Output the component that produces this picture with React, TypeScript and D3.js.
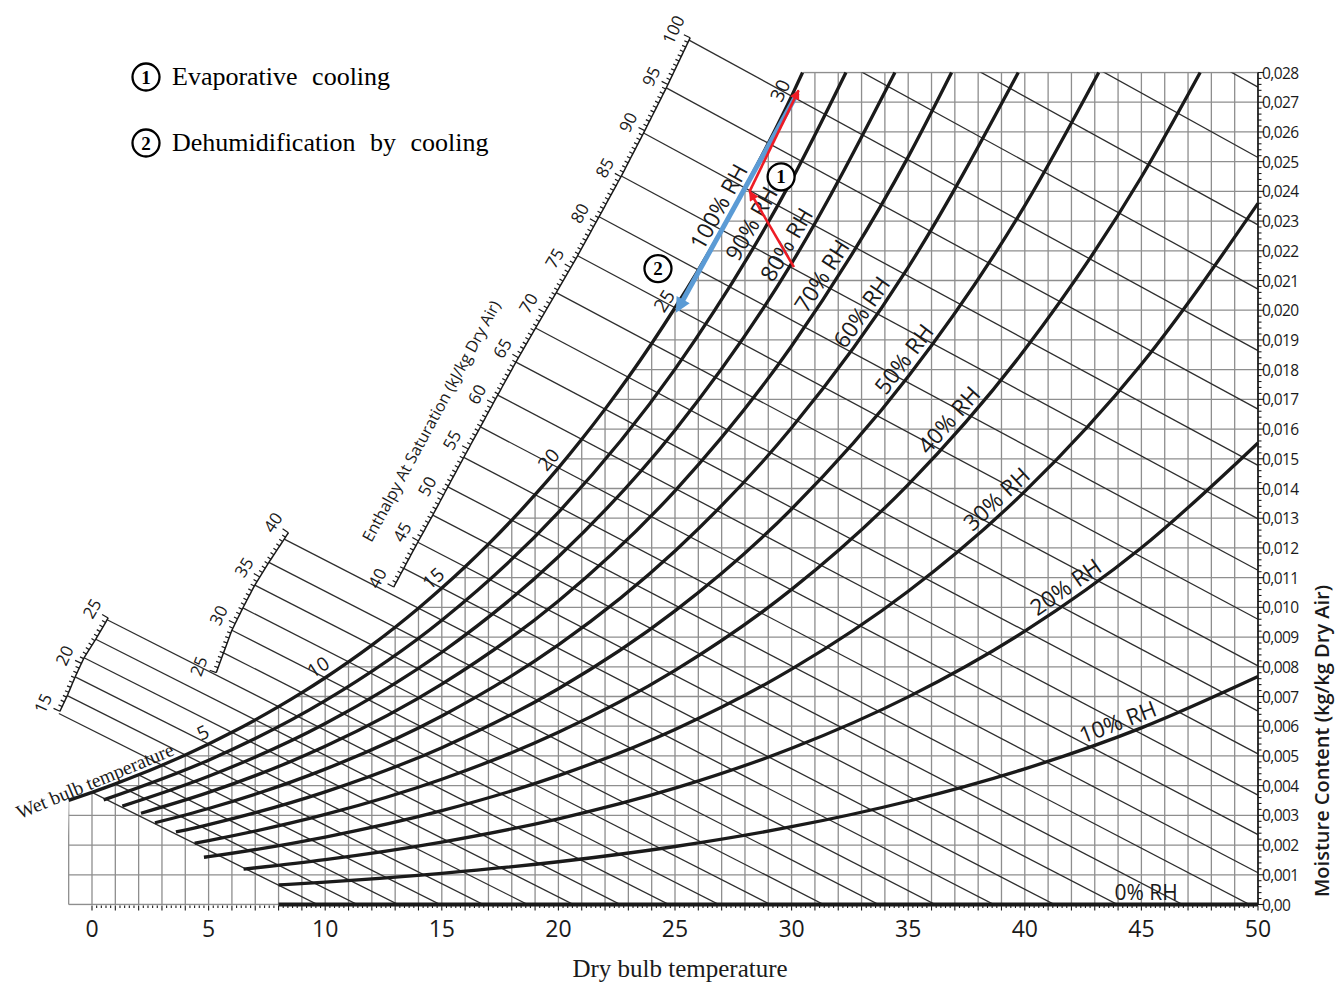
import React, { useEffect, useRef } from "react";
import * as d3 from "d3";

// ---------- DATA ----------
// Saturation (100% RH) moisture content at whole-degree dry bulb temperatures
const satT = [-1, 0, 1, 2, 3, 4, 5, 6, 7, 8, 9, 10, 11, 12, 13, 14, 15, 16, 17, 18, 19, 20, 21, 22, 23, 24, 25, 26, 27, 28, 29, 30, 31, 32, 33, 34];
const satW = [0.003505, 0.003775, 0.00406, 0.004364, 0.004689, 0.005034, 0.005403, 0.005795, 0.006212, 0.006657, 0.007129, 0.007631, 0.008165, 0.008731, 0.009333, 0.009971, 0.010649, 0.011367, 0.012129, 0.012935, 0.013791, 0.014696, 0.015656, 0.016671, 0.017744, 0.018881, 0.020083, 0.021354, 0.022698, 0.024118, 0.025619, 0.027205, 0.02888, 0.03065, 0.03252, 0.034494];
// enthalpy at saturation for the same temperatures (kJ/kg dry air)
const satEnthalpy = [7.75, 9.44, 11.17, 12.94, 14.77, 16.65, 18.59, 20.59, 22.66, 24.8, 27.0, 29.29, 31.65, 34.1, 36.65, 39.28, 42.02, 44.86, 47.82, 50.89, 54.09, 57.42, 60.89, 64.51, 68.28, 72.21, 76.31, 80.6, 85.07, 89.74, 94.63, 99.74, 105.1, 110.7, 116.5, 122.7];
const satTopT = 30.47;
const chartTopW = 0.028;

// Wet bulb lines: wet bulb temperature and moisture content where each line meets dry bulb 50 °C (extended)
const wbT = [0, 1, 2, 3, 4, 5, 6, 7, 8, 9, 10, 11, 12, 13, 14, 15, 16, 17, 18, 19, 20, 21, 22, 23, 24, 25, 26, 27, 28, 29, 30, 31, 32, 33, 34];
const wbW50 = [-0.01575, -0.01512, -0.01446, -0.01379, -0.01309, -0.01237, -0.01162, -0.01085, -0.01005, -0.00922, -0.00836, -0.00747, -0.00654, -0.00558, -0.00458, -0.00354, -0.00245, -0.00132, -0.00015, 0.00107, 0.00235, 0.00368, 0.00507, 0.00651, 0.00803, 0.0096, 0.01125, 0.01298, 0.01478, 0.01667, 0.01864, 0.02071, 0.02287, 0.02514, 0.02751];
const wbLabels = [5, 10, 15, 20, 25, 30];

// Relative humidity curves
const rhLevels = [90, 80, 70, 60, 50, 40, 30, 20, 10];
const rhGridT = [5, 10, 15, 20, 25, 30, 35, 40, 45, 50];
const rh90W = [0.004858, 0.006859, 0.009568, 0.013196, 0.018016, 0.024378, null, null, null, null];
const rh80W = [0.004315, 0.00609, 0.00849, 0.011702, 0.015963, 0.021575, null, null, null, null];
const rh70W = [0.003772, 0.005322, 0.007416, 0.010215, 0.013923, 0.018797, 0.025161, null, null, null];
const rh60W = [0.00323, 0.004556, 0.006346, 0.008735, 0.011896, 0.016042, 0.021443, null, null, null];
const rh50W = [0.00269, 0.003792, 0.005279, 0.007262, 0.009882, 0.013311, 0.017767, 0.023519, null, null];
const rh40W = [0.00215, 0.00303, 0.004216, 0.005796, 0.00788, 0.010604, 0.014133, 0.018674, 0.024483, null];
const rh30W = [0.001611, 0.00227, 0.003157, 0.004337, 0.005892, 0.007919, 0.01054, 0.013901, 0.018183, null];
const rh20W = [null, 0.001511, 0.002101, 0.002885, 0.003915, 0.005257, 0.006987, 0.009199, 0.012005, null];
const rh10W = [null, 0.000755, 0.001049, 0.001439, 0.001952, 0.002617, 0.003474, 0.004566, 0.005945, null];
const rhSeries = [rh90W, rh80W, rh70W, rh60W, rh50W, rh40W, rh30W, rh20W, rh10W];
const rhStartT = [0.5, 1.3, 2.1, 2.7, 3.6, 4.4, 4.8, 6.5, 8.0];
const rhStartW = [0.00352, 0.00331, 0.00307, 0.00275, 0.00244, 0.00206, 0.00159, 0.00119, 0.00066];
const rhEndT = [32.33, 34.43, 36.86, 39.72, 43.17, 47.52, 50, 50, 50];
const rhEndW = [0.028, 0.028, 0.028, 0.028, 0.028, 0.028, 0.023597, 0.015535, 0.007672];
const rhZeroStartT = 8;

// RH labels: dry bulb temperature where each label sits on its curve
const rhLabelText = ["100% RH", "90% RH", "80% RH", "70% RH", "60% RH", "50% RH", "40% RH", "30% RH", "20% RH", "10% RH"];
const rhLabelT = [27.4, 28.8, 30.3, 31.8, 33.5, 35.3, 37.2, 39.2, 42.1, 44.2];
const rhZeroLabelT = 45.2;

// Enthalpy scale segments: enthalpy values and how far (°C) the scale sits back from saturation
const enthLeftH = [15, 20, 25];
const enthLeftOffset = [4.5, 6.2, 7.4];
const enthMidH = [25, 30, 35, 40];
const enthMidOffset = [2.8, 4.2, 5.2, 5.85];
const enthTopH = [40, 45, 50, 55, 60, 65, 70, 80, 90, 100];
const enthTopOffset = [1.35, 2.05, 2.65, 3.15, 3.55, 3.85, 4.05, 4.25, 4.35, 4.4];

// Axes
const dbTickValues = [0, 5, 10, 15, 20, 25, 30, 35, 40, 45, 50];
const mcTickValues = [0, 0.001, 0.002, 0.003, 0.004, 0.005, 0.006, 0.007, 0.008, 0.009, 0.01, 0.011, 0.012, 0.013, 0.014, 0.015, 0.016, 0.017, 0.018, 0.019, 0.02, 0.021, 0.022, 0.023, 0.024, 0.025, 0.026, 0.027, 0.028];
const mcTickLabels = ["0,00", "0,001", "0,002", "0,003", "0,004", "0,005", "0,006", "0,007", "0,008", "0,009", "0,010", "0,011", "0,012", "0,013", "0,014", "0,015", "0,016", "0,017", "0,018", "0,019", "0,020", "0,021", "0,022", "0,023", "0,024", "0,025", "0,026", "0,027", "0,028"];

// Processes
const evapLeg1 = [[30.1, 0.02145], [28.2, 0.024]];
const evapLeg2 = [[28.2, 0.024], [30.3, 0.0274]];
const dehumLeg = [[30.25, 0.0273], [25.1, 0.02]];
const marker1 = [29.55, 0.02449];
const marker2 = [24.27, 0.0214];
const legendItems = ["Evaporative cooling", "Dehumidification by cooling"];

const SANS = "'Open Sans', 'Noto Sans', sans-serif";
const SERIF = "'Liberation Serif', 'Times New Roman', serif";
const INK = "#1a1a1a";

function draw(svgEl: SVGSVGElement) {
  const svg = d3.select(svgEl);
  svg.selectAll("*").remove();
  svg.append("rect").attr("width", 1341).attr("height", 983).attr("fill", "#fff");

  const x = d3.scaleLinear().domain([0, 50]).range([92, 1258]);
  const y = d3.scaleLinear().domain([0, 0.028]).range([904.5, 72.5]);
  const line = d3.line<number[]>().x((d) => x(d[0])).y((d) => y(d[1])).curve(d3.curveMonotoneX);
  const straight = d3.line<number[]>().x((d) => x(d[0])).y((d) => y(d[1]));

  const defs = svg.append("defs");
  defs.append("clipPath").attr("id", "gridRect").append("rect")
    .attr("x", x(-1) - 1).attr("y", y(chartTopW) - 1)
    .attr("width", x(50) - x(-1) + 2).attr("height", y(0) - y(chartTopW) + 2);
  const satPts = satT.map((t, i) => [t, satW[i]]);
  const underSat = line(satPts) + `L${x(50)},${y(0.0345)}L${x(50) + 2},${y(0) + 2}L${x(-1) - 2},${y(0) + 2}Z`;
  defs.append("clipPath").attr("id", "underSat").append("path").attr("d", underSat);
  const wbClip = [[0, 0], [x(satTopT), 0], [x(satTopT), y(chartTopW)], [x(50) + 1, y(chartTopW)], [x(50) + 1, y(0) + 1], [0, y(0) + 1]];
  defs.append("clipPath").attr("id", "wbClip").append("path").attr("d", "M" + wbClip.map((p) => p.join(",")).join("L") + "Z");

  const redM = defs.append("marker").attr("id", "redHead").attr("viewBox", "0 0 10 10")
    .attr("refX", 9).attr("refY", 5).attr("markerUnits", "userSpaceOnUse")
    .attr("markerWidth", 12).attr("markerHeight", 10).attr("orient", "auto");
  redM.append("path").attr("d", "M0,0L10,5L0,10Z").attr("fill", "#ee1c25");
  const blueM = defs.append("marker").attr("id", "blueHead").attr("viewBox", "0 0 10 10")
    .attr("refX", 8).attr("refY", 5).attr("markerUnits", "userSpaceOnUse")
    .attr("markerWidth", 16).attr("markerHeight", 15).attr("orient", "auto");
  blueM.append("path").attr("d", "M0,0L10,5L0,10Z").attr("fill", "#5b9bd5");

  // ---- grid ----
  const gridOuter = svg.append("g").attr("clip-path", "url(#gridRect)");
  const grid = gridOuter.append("g").attr("clip-path", "url(#underSat)")
    .attr("stroke", "#8e8e8e").attr("stroke-width", 1.3);
  for (let t = -1; t <= 50; t++) {
    grid.append("line").attr("x1", x(t)).attr("x2", x(t)).attr("y1", y(0)).attr("y2", y(chartTopW));
  }
  mcTickValues.forEach((w) => {
    grid.append("line").attr("x1", x(-1)).attr("x2", x(50)).attr("y1", y(w)).attr("y2", y(w));
  });

  // ---- enthalpy scale segments ----
  const satIdx = (t: number) => satT.indexOf(t);
  function segmentEnds(hs: number[], offs: number[], from: number, to: number) {
    const off = d3.scaleLinear().domain(hs).range(offs);
    const ends: { t: number; h: number; px: number; py: number }[] = [];
    for (let t = from; t <= to; t++) {
      const i = satIdx(t);
      const ws = satW[i];
      const h = satEnthalpy[i];
      const slope = (wbW50[wbT.indexOf(t)] - ws) / (50 - t);
      const te = t - off(h);
      const we = ws + slope * (te - t);
      ends.push({ t, h, px: x(te), py: y(we) });
    }
    return ends;
  }
  const segments = [
    { ends: segmentEnds(enthLeftH, enthLeftOffset, 3, 8), h0: 15, h1: 25 },
    { ends: segmentEnds(enthMidH, enthMidOffset, 9, 14), h0: 25, h1: 40 },
    { ends: segmentEnds(enthTopH, enthTopOffset, 15, 30), h0: 40, h1: 100 },
  ];
  const startOf = new Map<number, [number, number]>();
  segments.forEach((s) => s.ends.forEach((e) => startOf.set(e.t, [e.px, e.py])));

  // ---- wet bulb lines ----
  const wbG = svg.append("g").attr("clip-path", "url(#wbClip)").attr("stroke", "#2e2e2e").attr("stroke-width", 1.3);
  wbT.forEach((t, j) => {
    const i = satIdx(t);
    const s = startOf.get(t) || [x(t), y(satW[i])];
    wbG.append("line").attr("x1", s[0]).attr("y1", s[1]).attr("x2", x(50)).attr("y2", y(wbW50[j]));
  });

  // scale axes, ticks and labels
  const scaleG = svg.append("g");
  segments.forEach((seg) => {
    const hx = d3.scaleLinear().domain(seg.ends.map((e) => e.h)).range(seg.ends.map((e) => e.px));
    const hy = d3.scaleLinear().domain(seg.ends.map((e) => e.h)).range(seg.ends.map((e) => e.py));
    const pts: [number, number][] = [];
    for (let h = seg.h0; h <= seg.h1 + 1e-6; h += 0.25) pts.push([hx(h), hy(h)]);
    scaleG.append("path").attr("d", d3.line()(pts)).attr("fill", "none").attr("stroke", INK).attr("stroke-width", 1.5);
    for (let k = seg.h0 * 2; k <= seg.h1 * 2; k++) {
      const h = k / 2;
      const dx = hx(h + 0.1) - hx(h - 0.1);
      const dy = hy(h + 0.1) - hy(h - 0.1);
      const L = Math.hypot(dx, dy);
      const nx = dy / L, ny = -dx / L;
      const major = k % 10 === 0;
      const len = major ? 7 : 4;
      const px = hx(h), py = hy(h);
      scaleG.append("line").attr("x1", px).attr("y1", py).attr("x2", px + nx * len).attr("y2", py + ny * len)
        .attr("stroke", INK).attr("stroke-width", 1.2);
      if (major) {
        const ang = (Math.atan2(dy, dx) * 180) / Math.PI;
        scaleG.append("text")
          .attr("transform", `translate(${px + nx * 19},${py + ny * 19}) rotate(${ang})`)
          .attr("text-anchor", "middle").attr("dominant-baseline", "central")
          .attr("font-family", SANS).attr("font-size", 17).attr("fill", INK).text(String(h));
      }
    }
  });
  svg.append("text").attr("transform", "translate(431,421) rotate(-61.5)")
    .attr("text-anchor", "middle").attr("dominant-baseline", "central")
    .attr("font-family", SANS).attr("font-size", 16).attr("fill", INK)
    .text("Enthalpy At Saturation (kJ/kg Dry Air)");

  // ---- RH curves ----
  const curveG = svg.append("g").attr("fill", "none").attr("stroke", INK).attr("stroke-width", 3.3);
  const sat100 = satT.map((t, i) => [t, satW[i]]).filter((d) => d[0] <= 30);
  sat100.push([satTopT, chartTopW]);
  const paths: SVGPathElement[] = [];
  paths.push(curveG.append("path").attr("d", line(sat100)).node() as SVGPathElement);
  rhLevels.forEach((_, k) => {
    const pts: number[][] = [[rhStartT[k], rhStartW[k]]];
    rhGridT.forEach((t, i) => {
      const w = rhSeries[k][i];
      if (w != null && t > rhStartT[k] && t < rhEndT[k]) pts.push([t, w]);
    });
    pts.push([rhEndT[k], rhEndW[k]]);
    paths.push(curveG.append("path").attr("d", line(pts)).node() as SVGPathElement);
  });
  curveG.append("path").attr("d", straight([[rhZeroStartT, 0], [50, 0]])).attr("stroke-width", 3.8);

  // ---- axes ----
  const axG = svg.append("g").attr("stroke", INK);
  axG.append("line").attr("x1", x(50)).attr("x2", x(50)).attr("y1", y(0)).attr("y2", y(chartTopW)).attr("stroke-width", 1.7);
  for (let k = 0; k <= 250; k++) {
    const t = k / 5;
    axG.append("line").attr("x1", x(t)).attr("x2", x(t)).attr("y1", y(0) + 1)
      .attr("y2", y(0) + (k % 5 === 0 ? 6 : 3.5)).attr("stroke-width", 1.1);
  }
  for (let k = 0; k <= 140; k++) {
    const w = k * 0.0002;
    axG.append("line").attr("x1", x(50)).attr("x2", x(50) + (k % 5 === 0 ? 6 : 3.5)).attr("y1", y(w)).attr("y2", y(w)).attr("stroke-width", 1.1);
  }
  const txt = svg.append("g").attr("fill", INK);
  dbTickValues.forEach((v) => {
    txt.append("text").attr("x", x(v)).attr("y", 937).attr("text-anchor", "middle")
      .attr("font-family", SANS).attr("font-size", 23).text(String(v));
  });
  mcTickValues.forEach((v, i) => {
    txt.append("text").attr("x", x(50) + 4).attr("y", y(v)).attr("dominant-baseline", "central")
      .attr("font-family", SANS).attr("font-size", 15.5).attr("letter-spacing", -0.6).text(mcTickLabels[i]);
  });
  txt.append("text").attr("transform", "translate(1321,741) rotate(-90)").attr("text-anchor", "middle")
    .attr("dominant-baseline", "central").attr("font-family", SANS).attr("font-size", 20).attr("font-weight", 600)
    .text("Moisture Content (kg/kg Dry Air)");
  txt.append("text").attr("x", 680).attr("y", 977).attr("text-anchor", "middle")
    .attr("font-family", SERIF).attr("font-size", 25).text("Dry bulb temperature");
  txt.append("text").attr("transform", "translate(95,781) rotate(-22.5)").attr("text-anchor", "middle")
    .attr("dominant-baseline", "central").attr("font-family", SERIF).attr("font-size", 19.5).text("Wet bulb temperature");

  // wet bulb labels on saturation curve
  wbLabels.forEach((t) => {
    const i = satIdx(t);
    const dx = x(satT[i + 1]) - x(satT[i - 1]);
    const dy = y(satW[i + 1]) - y(satW[i - 1]);
    const L = Math.hypot(dx, dy);
    const nx = dy / L, ny = -dx / L;
    const ang = (Math.atan2(dy, dx) * 180) / Math.PI;
    txt.append("text").attr("transform", `translate(${x(t) + nx * 13},${y(satW[i]) + ny * 13}) rotate(${ang})`)
      .attr("text-anchor", "middle").attr("dominant-baseline", "central")
      .attr("font-family", SANS).attr("font-size", 19).text(String(t));
  });

  // RH labels along curves
  function pointAtX(p: SVGPathElement, tx: number) {
    const L = p.getTotalLength();
    let lo = 0, hi = L;
    for (let it = 0; it < 40; it++) {
      const mid = (lo + hi) / 2;
      if (p.getPointAtLength(mid).x < tx) lo = mid; else hi = mid;
    }
    const c = p.getPointAtLength(lo);
    const a = p.getPointAtLength(Math.max(0, lo - 3));
    const b = p.getPointAtLength(Math.min(L, lo + 3));
    return { x: c.x, y: c.y, ang: (Math.atan2(b.y - a.y, b.x - a.x) * 180) / Math.PI };
  }
  rhLabelText.forEach((label, k) => {
    const p = pointAtX(paths[k], x(rhLabelT[k]));
    txt.append("text").attr("transform", `translate(${p.x},${p.y}) rotate(${p.ang})`)
      .attr("y", -6).attr("text-anchor", "middle")
      .attr("font-family", SANS).attr("font-size", 22.5).text(label);
  });
  txt.append("text").attr("x", x(rhZeroLabelT)).attr("y", y(0) - 5).attr("text-anchor", "middle")
    .attr("font-family", SANS).attr("font-size", 21).text("0% RH");

  // ---- processes ----
  svg.append("path").attr("d", straight(dehumLeg)).attr("stroke", "#5b9bd5").attr("stroke-width", 5)
    .attr("fill", "none").attr("marker-end", "url(#blueHead)");
  [evapLeg1, evapLeg2].forEach((leg) => {
    svg.append("path").attr("d", straight(leg)).attr("stroke", "#ee1c25").attr("stroke-width", 2.6)
      .attr("fill", "none").attr("marker-end", "url(#redHead)");
  });
  const circ = (cx: number, cy: number, n: string) => {
    svg.append("circle").attr("cx", cx).attr("cy", cy).attr("r", 13.5).attr("fill", "#fff")
      .attr("stroke", "#000").attr("stroke-width", 2.3);
    svg.append("text").attr("x", cx).attr("y", cy + 6.5).attr("text-anchor", "middle")
      .attr("font-family", SERIF).attr("font-weight", 700).attr("font-size", 19).attr("fill", "#000").text(n);
  };
  circ(x(marker1[0]), y(marker1[1]), "1");
  circ(x(marker2[0]), y(marker2[1]), "2");

  // legend
  legendItems.forEach((label, i) => {
    const cy = 77 + i * 66;
    circ(146, cy, String(i + 1));
    svg.append("text").attr("x", 172).attr("y", cy + 8).attr("font-family", SERIF).attr("font-size", 26)
      .attr("word-spacing", 8).attr("fill", "#000").text(label);
  });
}

export default function App() {
  const ref = useRef<SVGSVGElement>(null);
  useEffect(() => {
    if (ref.current) draw(ref.current);
  }, []);
  return (
    <svg ref={ref} width={1341} height={983}
      style={{ position: "absolute", left: 0, top: 0, display: "block", background: "#fff" }} />
  );
}
